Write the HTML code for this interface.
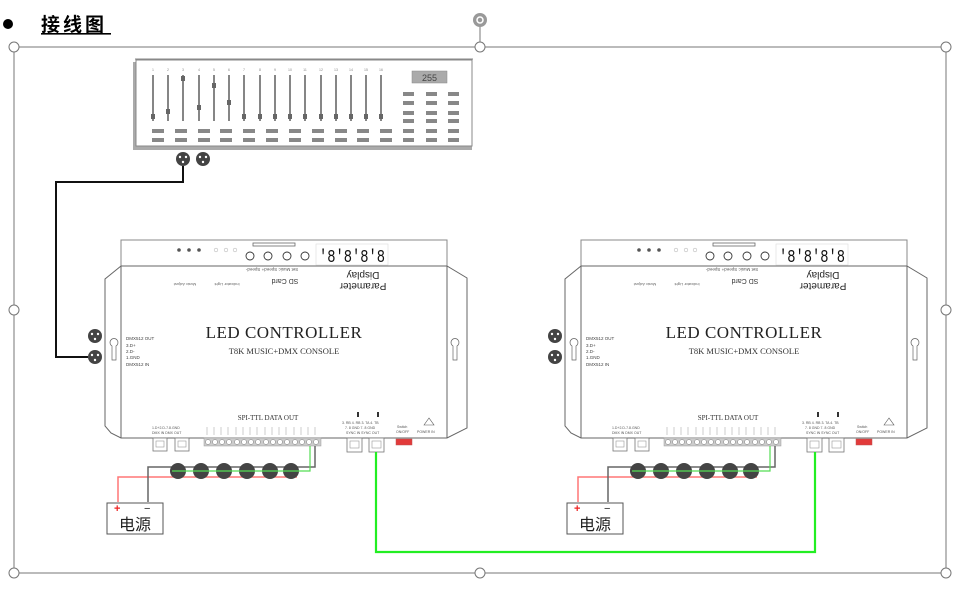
<!DOCTYPE html>
<html><head><meta charset="utf-8"><style>
html,body{margin:0;padding:0;background:#fff;}
svg{display:block;font-family:"Liberation Sans",sans-serif;}
</style></head><body>
<svg width="959" height="591" viewBox="0 0 959 591" xmlns="http://www.w3.org/2000/svg">
<defs>
<g id="ctrl">
  <rect x="121" y="240" width="326" height="26" fill="#fff" stroke="#888" stroke-width="1"/>
  <circle cx="179" cy="250" r="1.8" fill="#555"/><circle cx="189" cy="250" r="1.8" fill="#555"/><circle cx="199" cy="250" r="1.8" fill="#555"/>
  <circle cx="216" cy="250" r="1.8" fill="none" stroke="#bbb" stroke-width="0.6"/><circle cx="226" cy="250" r="1.8" fill="none" stroke="#bbb" stroke-width="0.6"/><circle cx="235" cy="250" r="1.8" fill="none" stroke="#bbb" stroke-width="0.6"/>
  <rect x="253" y="243" width="42" height="3" fill="#fff" stroke="#666" stroke-width="0.8"/>
  <circle cx="250" cy="256" r="4" fill="none" stroke="#333" stroke-width="0.9"/><circle cx="268" cy="256" r="4" fill="none" stroke="#333" stroke-width="0.9"/><circle cx="287" cy="256" r="4" fill="none" stroke="#333" stroke-width="0.9"/><circle cx="305" cy="256" r="4" fill="none" stroke="#333" stroke-width="0.9"/>
  <rect x="316" y="244" width="72" height="21" fill="#fff" stroke="#ddd" stroke-width="0.6"/>
  <text x="319" y="262" font-size="18" font-family="Liberation Mono,monospace" fill="#111" textLength="66" lengthAdjust="spacingAndGlyphs">'8'8'8'8</text>
  <text x="363" y="280" font-size="10" fill="#222" text-anchor="middle" transform="rotate(180 363 276)">Display</text>
  <text x="363" y="291" font-size="10" fill="#222" text-anchor="middle" transform="rotate(180 363 287)">Parameter</text>
  <text x="285" y="283" font-size="7" fill="#333" text-anchor="middle" transform="rotate(180 285 281)">SD Card</text>
  <text x="272" y="272" font-size="4.5" fill="#555" text-anchor="middle" transform="rotate(180 272 270)">Set   Music  Speed+  Speed-</text>
  <text x="185" y="285" font-size="4" fill="#666" text-anchor="middle" transform="rotate(180 185 284)">Music Adjust</text>
  <text x="227" y="285" font-size="4" fill="#666" text-anchor="middle" transform="rotate(180 227 284)">Indicator Light</text>
  <path d="M121 266 L105 279 L105 426 L111 433 L121 438 L447 438 L467 428 L467 278 L447 266 Z" fill="none" stroke="#666" stroke-width="1"/>
  <path d="M121 266 L121 438 M447 266 L447 438" stroke="#666" stroke-width="1"/>
  <path d="M112 346 A4 4 0 1 1 116 346 L116 360 L112 360 Z" fill="none" stroke="#666" stroke-width="0.7"/>
  <path d="M453 346 A4 4 0 1 1 457 346 L457 360 L453 360 Z" fill="none" stroke="#666" stroke-width="0.7"/>
  <g font-size="4.5" fill="#444"><text x="126" y="340">DMX512 OUT</text><text x="126" y="347">3.D+</text><text x="126" y="353">2.D-</text><text x="126" y="359">1.GND</text><text x="126" y="366">DMX512 IN</text></g>
  <text x="284" y="338" font-size="17" font-family="Liberation Serif,serif" text-anchor="middle" fill="#222" letter-spacing="0.5">LED CONTROLLER</text>
  <text x="284" y="354" font-size="8.5" font-family="Liberation Serif,serif" text-anchor="middle" fill="#333">T8K MUSIC+DMX CONSOLE</text>
  <text x="268" y="420" font-size="7" font-family="Liberation Serif,serif" text-anchor="middle" fill="#333">SPI-TTL   DATA OUT</text>
  <g font-size="3.5" fill="#555"><text x="152" y="429">1.D+2.D-7.8.GND</text><text x="152" y="434">DMX IN  DMX OUT</text>
  <text x="342" y="424">3. RB 4. RB  3. TA 4. TB</text><text x="345" y="429">7. 8 GND    7. 8 GND</text><text x="346" y="434">SYNC IN     SYNC OUT</text>
  <text x="397" y="428">Switch</text><text x="396" y="433">ON/OFF</text><text x="417" y="433">POWER IN</text></g>
  <path d="M424 425 L429 418 L434 425 Z" fill="none" stroke="#555" stroke-width="0.6"/>
  <rect x="357" y="412" width="2" height="5" fill="#333"/><rect x="377" y="412" width="2" height="5" fill="#333"/>
  <g stroke="#999" stroke-width="0.5">
  <line x1="207" y1="427" x2="207" y2="435"/><line x1="214" y1="427" x2="214" y2="435"/><line x1="221" y1="427" x2="221" y2="435"/><line x1="228" y1="427" x2="228" y2="435"/><line x1="236" y1="427" x2="236" y2="435"/><line x1="243" y1="427" x2="243" y2="435"/><line x1="250" y1="427" x2="250" y2="435"/><line x1="257" y1="427" x2="257" y2="435"/><line x1="265" y1="427" x2="265" y2="435"/><line x1="272" y1="427" x2="272" y2="435"/><line x1="279" y1="427" x2="279" y2="435"/><line x1="286" y1="427" x2="286" y2="435"/><line x1="294" y1="427" x2="294" y2="435"/><line x1="301" y1="427" x2="301" y2="435"/><line x1="308" y1="427" x2="308" y2="435"/><line x1="315" y1="427" x2="315" y2="435"/></g>
  <rect x="204" y="438" width="117" height="8" fill="#ccc" stroke="#999" stroke-width="0.5"/>
  <g fill="#fff" stroke="#777" stroke-width="0.5">
  <circle cx="208" cy="442" r="2.5"/><circle cx="215" cy="442" r="2.5"/><circle cx="222" cy="442" r="2.5"/><circle cx="229" cy="442" r="2.5"/><circle cx="237" cy="442" r="2.5"/><circle cx="244" cy="442" r="2.5"/><circle cx="251" cy="442" r="2.5"/><circle cx="258" cy="442" r="2.5"/><circle cx="266" cy="442" r="2.5"/><circle cx="273" cy="442" r="2.5"/><circle cx="280" cy="442" r="2.5"/><circle cx="287" cy="442" r="2.5"/><circle cx="295" cy="442" r="2.5"/><circle cx="302" cy="442" r="2.5"/><circle cx="309" cy="442" r="2.5"/><circle cx="316" cy="442" r="2.5"/></g>
  <g fill="#fff" stroke="#777" stroke-width="0.8">
  <rect x="153" y="438" width="14" height="13"/><rect x="175" y="438" width="14" height="13"/>
  <rect x="347" y="438" width="15" height="14"/><rect x="369" y="438" width="15" height="14"/></g>
  <g fill="none" stroke="#999" stroke-width="0.6"><rect x="156" y="441" width="8" height="6"/><rect x="178" y="441" width="8" height="6"/><rect x="350" y="441" width="9" height="7"/><rect x="372" y="441" width="9" height="7"/></g>
  <rect x="396" y="439" width="16" height="6" fill="#e23a3a" stroke="#b55" stroke-width="0.5"/>
  <circle cx="95" cy="336" r="7" fill="#444"/><circle cx="95" cy="357" r="7" fill="#444"/>
  <g fill="#fff"><circle cx="92" cy="334" r="1.2"/><circle cx="98" cy="334" r="1.2"/><circle cx="95" cy="339" r="1.2"/><circle cx="92" cy="355" r="1.2"/><circle cx="98" cy="355" r="1.2"/><circle cx="95" cy="360" r="1.2"/></g>
  <polyline points="118,502 118,477 297,477" fill="none" stroke="#f77" stroke-width="1.5"/>
  <polyline points="148,502 148,467 315,467 315,446" fill="none" stroke="#666" stroke-width="1.5"/>
  <g fill="#444"><circle cx="178" cy="471" r="8"/><circle cx="201" cy="471" r="8"/><circle cx="224" cy="471" r="8"/><circle cx="247" cy="471" r="8"/><circle cx="270" cy="471" r="8"/><circle cx="291" cy="471" r="8"/></g>
  <polyline points="172,471 310,471 310,446" fill="none" stroke="#5d5" stroke-width="1.2"/>
  <rect x="107" y="503" width="56" height="31" fill="#fff" stroke="#555" stroke-width="1"/>
  <text x="114" y="512" font-size="11" fill="#e22" font-weight="bold">+</text>
  <text x="144" y="512" font-size="11" fill="#222">−</text>
  <text x="135" y="530" font-size="16" text-anchor="middle" fill="#222" font-family="'Noto Sans CJK SC',sans-serif">电源</text>
</g>
</defs>

<circle cx="8" cy="24" r="5" fill="#000"/>
<text x="41" y="31" font-size="19" font-weight="bold" font-family="'Noto Sans CJK SC','WenQuanYi Zen Hei',sans-serif" letter-spacing="3" fill="#000">接线图</text>
<rect x="41" y="33" width="70" height="1.6" fill="#000"/>

<rect x="14" y="47" width="932" height="526" fill="none" stroke="#777" stroke-width="1"/>
<line x1="480" y1="27" x2="480" y2="47" stroke="#777"/>
<circle cx="480" cy="20" r="7" fill="#999"/><circle cx="480" cy="20" r="3" fill="none" stroke="#fff" stroke-width="1.5"/>
<g fill="#fff" stroke="#777" stroke-width="1">
<circle cx="14" cy="47" r="5"/><circle cx="480" cy="47" r="5"/><circle cx="946" cy="47" r="5"/>
<circle cx="14" cy="310" r="5"/><circle cx="946" cy="310" r="5"/>
<circle cx="14" cy="573" r="5"/><circle cx="480" cy="573" r="5"/><circle cx="946" cy="573" r="5"/></g>

<line x1="135" y1="59" x2="473" y2="59" stroke="#888"/>
<rect x="133" y="62" width="339" height="88" fill="#aaa"/>
<rect x="136" y="60" width="336" height="86" fill="#fff" stroke="#888" stroke-width="1"/>
<g stroke="#444" stroke-width="1.3">
<line x1="153" y1="75" x2="153" y2="121"/><line x1="168" y1="75" x2="168" y2="121"/><line x1="183" y1="75" x2="183" y2="121"/><line x1="199" y1="75" x2="199" y2="121"/><line x1="214" y1="75" x2="214" y2="121"/><line x1="229" y1="75" x2="229" y2="121"/><line x1="244" y1="75" x2="244" y2="121"/><line x1="260" y1="75" x2="260" y2="121"/><line x1="275" y1="75" x2="275" y2="121"/><line x1="290" y1="75" x2="290" y2="121"/><line x1="305" y1="75" x2="305" y2="121"/><line x1="321" y1="75" x2="321" y2="121"/><line x1="336" y1="75" x2="336" y2="121"/><line x1="351" y1="75" x2="351" y2="121"/><line x1="366" y1="75" x2="366" y2="121"/><line x1="381" y1="75" x2="381" y2="121"/></g>
<g fill="#666">
<rect x="151" y="114" width="4" height="5"/><rect x="166" y="109" width="4" height="5"/><rect x="181" y="76" width="4" height="5"/><rect x="197" y="105" width="4" height="5"/><rect x="212" y="83" width="4" height="5"/><rect x="227" y="100" width="4" height="5"/><rect x="242" y="114" width="4" height="5"/><rect x="258" y="114" width="4" height="5"/><rect x="273" y="114" width="4" height="5"/><rect x="288" y="114" width="4" height="5"/><rect x="303" y="114" width="4" height="5"/><rect x="319" y="114" width="4" height="5"/><rect x="334" y="114" width="4" height="5"/><rect x="349" y="114" width="4" height="5"/><rect x="364" y="114" width="4" height="5"/><rect x="379" y="114" width="4" height="5"/></g>
<g font-size="3.5" fill="#888" text-anchor="middle"><text x="153" y="71">1</text><text x="168" y="71">2</text><text x="183" y="71">3</text><text x="199" y="71">4</text><text x="214" y="71">5</text><text x="229" y="71">6</text><text x="244" y="71">7</text><text x="260" y="71">8</text><text x="275" y="71">9</text><text x="290" y="71">10</text><text x="305" y="71">11</text><text x="321" y="71">12</text><text x="336" y="71">13</text><text x="351" y="71">14</text><text x="366" y="71">15</text><text x="381" y="71">16</text></g>
<g fill="#888">
<rect x="152" y="129" width="12" height="4"/><rect x="175" y="129" width="12" height="4"/><rect x="198" y="129" width="12" height="4"/><rect x="220" y="129" width="12" height="4"/><rect x="243" y="129" width="12" height="4"/><rect x="266" y="129" width="12" height="4"/><rect x="289" y="129" width="12" height="4"/><rect x="312" y="129" width="12" height="4"/><rect x="335" y="129" width="12" height="4"/><rect x="357" y="129" width="12" height="4"/><rect x="380" y="129" width="12" height="4"/>
<rect x="152" y="138" width="12" height="4"/><rect x="175" y="138" width="12" height="4"/><rect x="198" y="138" width="12" height="4"/><rect x="220" y="138" width="12" height="4"/><rect x="243" y="138" width="12" height="4"/><rect x="266" y="138" width="12" height="4"/><rect x="289" y="138" width="12" height="4"/><rect x="312" y="138" width="12" height="4"/><rect x="335" y="138" width="12" height="4"/><rect x="357" y="138" width="12" height="4"/><rect x="380" y="138" width="12" height="4"/>
<rect x="403" y="92" width="11" height="4"/><rect x="426" y="92" width="11" height="4"/><rect x="448" y="92" width="11" height="4"/>
<rect x="403" y="101" width="11" height="4"/><rect x="426" y="101" width="11" height="4"/><rect x="448" y="101" width="11" height="4"/>
<rect x="403" y="111" width="11" height="4"/><rect x="426" y="111" width="11" height="4"/><rect x="448" y="111" width="11" height="4"/>
<rect x="403" y="119" width="11" height="4"/><rect x="426" y="119" width="11" height="4"/><rect x="448" y="119" width="11" height="4"/>
<rect x="403" y="129" width="11" height="4"/><rect x="426" y="129" width="11" height="4"/><rect x="448" y="129" width="11" height="4"/>
<rect x="403" y="138" width="11" height="4"/><rect x="426" y="138" width="11" height="4"/><rect x="448" y="138" width="11" height="4"/></g>
<rect x="412" y="71" width="35" height="12" fill="#aaa" stroke="#888" stroke-width="0.5"/>
<text x="429.5" y="81" font-size="9" text-anchor="middle" fill="#444">255</text>
<circle cx="183" cy="159" r="7" fill="#444"/><circle cx="203" cy="159" r="7" fill="#444"/>
<g fill="#fff"><circle cx="180" cy="157" r="1.2"/><circle cx="186" cy="157" r="1.2"/><circle cx="183" cy="162" r="1.2"/><circle cx="200" cy="157" r="1.2"/><circle cx="206" cy="157" r="1.2"/><circle cx="203" cy="162" r="1.2"/></g>

<use href="#ctrl"/>
<use href="#ctrl" transform="translate(460,0)"/>

<polyline points="183,166 183,182 56,182 56,357 88,357" fill="none" stroke="#111" stroke-width="2"/>
<polyline points="376,452 376,552 815,552 815,452" fill="none" stroke="#2e2" stroke-width="2.2"/>
</svg>
</body></html>
